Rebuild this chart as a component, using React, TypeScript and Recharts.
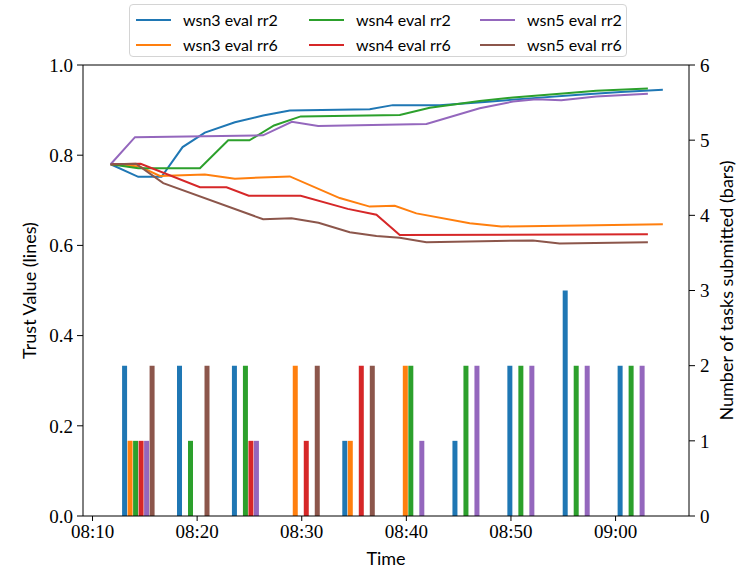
import React from 'react';
import { ComposedChart, LineChart, Line, Bar, XAxis, YAxis, Legend, ReferenceLine } from 'recharts';

// minutes after 08:00
const groupTimes = [14.4, 19.65, 24.9, 30.19, 35.45, 40.71, 45.98, 51.23, 56.52, 61.77];

// tasks submitted per evaluation round, one entry per group
const wsn3rr2Bars = [2, 2, 2, 0, 1, 0, 1, 2, 3, 2];
const wsn3rr6Bars = [1, 0, 0, 2, 1, 2, 0, 0, 0, 0];
const wsn4rr2Bars = [1, 1, 2, 0, 0, 2, 2, 2, 2, 2];
const wsn4rr6Bars = [1, 0, 1, 1, 2, 0, 0, 0, 0, 0];
const wsn5rr2Bars = [1, 0, 1, 0, 0, 1, 2, 2, 2, 2];
const wsn5rr6Bars = [2, 2, 0, 2, 2, 0, 0, 0, 0, 0];

// trust value lines: [minute, value]
const wsn3rr2Line = [
  [11.73, 0.78], [14.37, 0.752], [16.6, 0.752], [18.61, 0.818], [20.74, 0.85], [23.61, 0.873],
  [26.31, 0.888], [28.86, 0.899], [36.5, 0.902], [38.7, 0.911], [43.19, 0.911], [47.5, 0.918],
  [51.8, 0.926], [56.5, 0.934], [60.5, 0.94], [64.52, 0.945],
];
const wsn3rr6Line = [
  [11.73, 0.78], [14.5, 0.775], [16.44, 0.754], [20.74, 0.757], [23.61, 0.748], [28.86, 0.753],
  [33.63, 0.705], [36.5, 0.686], [38.89, 0.688], [40.96, 0.671], [46.06, 0.649], [49.08, 0.642],
  [56.56, 0.644], [64.52, 0.647],
];
const wsn4rr2Line = [
  [11.73, 0.78], [14.37, 0.771], [20.27, 0.771], [22.97, 0.833], [25.0, 0.833], [27.35, 0.866],
  [29.9, 0.886], [39.37, 0.889], [42.24, 0.905], [47.01, 0.92], [50.2, 0.928], [54.97, 0.937],
  [58.15, 0.943], [63.09, 0.948],
];
const wsn4rr6Line = [
  [11.73, 0.78], [14.6, 0.781], [20.27, 0.729], [22.81, 0.729], [24.93, 0.71], [29.9, 0.71],
  [34.4, 0.681], [37.14, 0.668], [39.37, 0.623], [63.09, 0.625],
];
const wsn5rr2Line = [
  [11.73, 0.78], [14.06, 0.84], [26.31, 0.844], [29.05, 0.874], [31.57, 0.865], [41.92, 0.869],
  [47.01, 0.904], [50.2, 0.919], [52.42, 0.924], [54.81, 0.922], [58.15, 0.93], [63.09, 0.936],
];
const wsn5rr6Line = [
  [11.73, 0.78], [14.15, 0.781], [16.76, 0.738], [26.31, 0.658], [29.02, 0.66], [31.6, 0.65],
  [34.59, 0.629], [37.14, 0.621], [39.37, 0.617], [41.92, 0.607], [52.1, 0.611], [54.65, 0.604],
  [63.09, 0.607],
];

const timeTicks = [10, 20, 30, 40, 50, 60];
const trustTicks = [0, 0.2, 0.4, 0.6, 0.8, 1.0];
const countTicks = [0, 1, 2, 3, 4, 5, 6];

const series = [
  { key: 's0', name: 'wsn3 eval rr2', color: '#1f77b4', bars: wsn3rr2Bars, line: wsn3rr2Line },
  { key: 's1', name: 'wsn3 eval rr6', color: '#ff7f0e', bars: wsn3rr6Bars, line: wsn3rr6Line },
  { key: 's2', name: 'wsn4 eval rr2', color: '#2ca02c', bars: wsn4rr2Bars, line: wsn4rr2Line },
  { key: 's3', name: 'wsn4 eval rr6', color: '#d62728', bars: wsn4rr6Bars, line: wsn4rr6Line },
  { key: 's4', name: 'wsn5 eval rr2', color: '#9467bd', bars: wsn5rr2Bars, line: wsn5rr2Line },
  { key: 's5', name: 'wsn5 eval rr6', color: '#8c564b', bars: wsn5rr6Bars, line: wsn5rr6Line },
];

const barData = groupTimes.map((t, i) => {
  const row: Record<string, number | null> = { t };
  series.forEach((s) => {
    row[s.key] = s.bars[i] > 0 ? s.bars[i] : null;
  });
  return row;
});

const SANS = 'Lato, "DejaVu Sans", sans-serif';
const SERIF = '"Liberation Serif", "DejaVu Serif", serif';
const tickStyle = { fontFamily: SERIF, fontSize: 19, fill: '#000' };
const labelStyle = { fontFamily: SANS, fontSize: 18, fill: '#000' };
const domainX: [number, number] = [9.09, 67.02];
const W = 741;
const H = 572;

const fmtTime = (m: number) => {
  const h = 8 + Math.floor(m / 60);
  const mm = Math.round(m % 60);
  return `${String(h).padStart(2, '0')}:${String(mm).padStart(2, '0')}`;
};

// legend is laid out column by column like the original
const order = [0, 2, 4, 1, 3, 5];
const renderLegend = () => (
  <div
    style={{
      boxSizing: 'border-box',
      width: '100%',
      height: '100%',
      border: '1px solid #d4d4d4',
      borderRadius: 4,
      background: '#fff',
      display: 'grid',
      gridTemplateColumns: '173px 171px 1fr',
      gridAutoRows: '25px',
      padding: '2px 0 0 6px',
      fontFamily: SANS,
      fontSize: 16,
      color: '#000',
    }}
  >
    {order.map((i) => (
      <div key={series[i].key} style={{ display: 'flex', alignItems: 'center' }}>
        <span style={{ display: 'inline-block', width: 35, height: 2, background: series[i].color, marginRight: 12 }} />
        <span>{series[i].name}</span>
      </div>
    ))}
  </div>
);

export default function App() {
  return (
    <div style={{ position: 'relative', width: W, height: H }}>
      <style>{'body{margin:0}'}</style>
      {/* bars, time axis and count axis */}
      <div style={{ position: 'absolute', left: 0, top: 0 }}>
        <ComposedChart width={W} height={H} data={barData} barGap={0.5} margin={{ top: 65, right: 0, bottom: 26, left: 83 }}>
          <XAxis
            dataKey="t"
            type="number"
            domain={domainX}
            allowDataOverflow
            ticks={timeTicks}
            tickFormatter={fmtTime}
            tick={tickStyle}
            tickSize={5}
            tickMargin={4}
            height={30}
            stroke="#000"
            label={{ value: 'Time', position: 'bottom', offset: 6, style: labelStyle }}
          />
          <YAxis
            yAxisId="right"
            orientation="right"
            domain={[0, 6]}
            ticks={countTicks}
            tick={tickStyle}
            tickSize={6}
            tickMargin={5}
            width={52}
            stroke="#000"
            label={{ value: 'Number of tasks submitted (bars)', angle: -90, position: 'insideRight', offset: 14, style: { ...labelStyle, textAnchor: 'middle' } }}
          />
          <ReferenceLine yAxisId="right" y={6} stroke="#000" />
          <Legend layout="horizontal" verticalAlign="middle" align="center" content={renderLegend} wrapperStyle={{ top: 4, left: 129, width: 498, height: 53 }} />
          {series.map((s) => (
            <Bar key={'b' + s.key} yAxisId="right" dataKey={s.key} fill={s.color} barSize={5} isAnimationActive={false} />
          ))}
        </ComposedChart>
      </div>
      {/* trust value lines and their axis, over the same plot area */}
      <div style={{ position: 'absolute', left: 0, top: 0, pointerEvents: 'none' }}>
        <LineChart width={W} height={H} margin={{ top: 65, right: 52, bottom: 56, left: 0 }}>
          <XAxis dataKey="t" type="number" domain={domainX} allowDataOverflow hide />
          <YAxis
            domain={[0, 1]}
            ticks={trustTicks}
            tickFormatter={(v: number) => v.toFixed(1)}
            tick={tickStyle}
            tickSize={6}
            tickMargin={4}
            width={83}
            stroke="#000"
            label={{ value: 'Trust Value (lines)', angle: -90, position: 'insideLeft', offset: 30, style: { ...labelStyle, textAnchor: 'middle' } }}
          />
          {series.map((s) => (
            <Line
              key={'l' + s.key}
              data={s.line.map(([t, v]) => ({ t, v }))}
              dataKey="v"
              type="linear"
              stroke={s.color}
              strokeWidth={2}
              dot={false}
              activeDot={false}
              isAnimationActive={false}
            />
          ))}
        </LineChart>
      </div>
    </div>
  );
}
